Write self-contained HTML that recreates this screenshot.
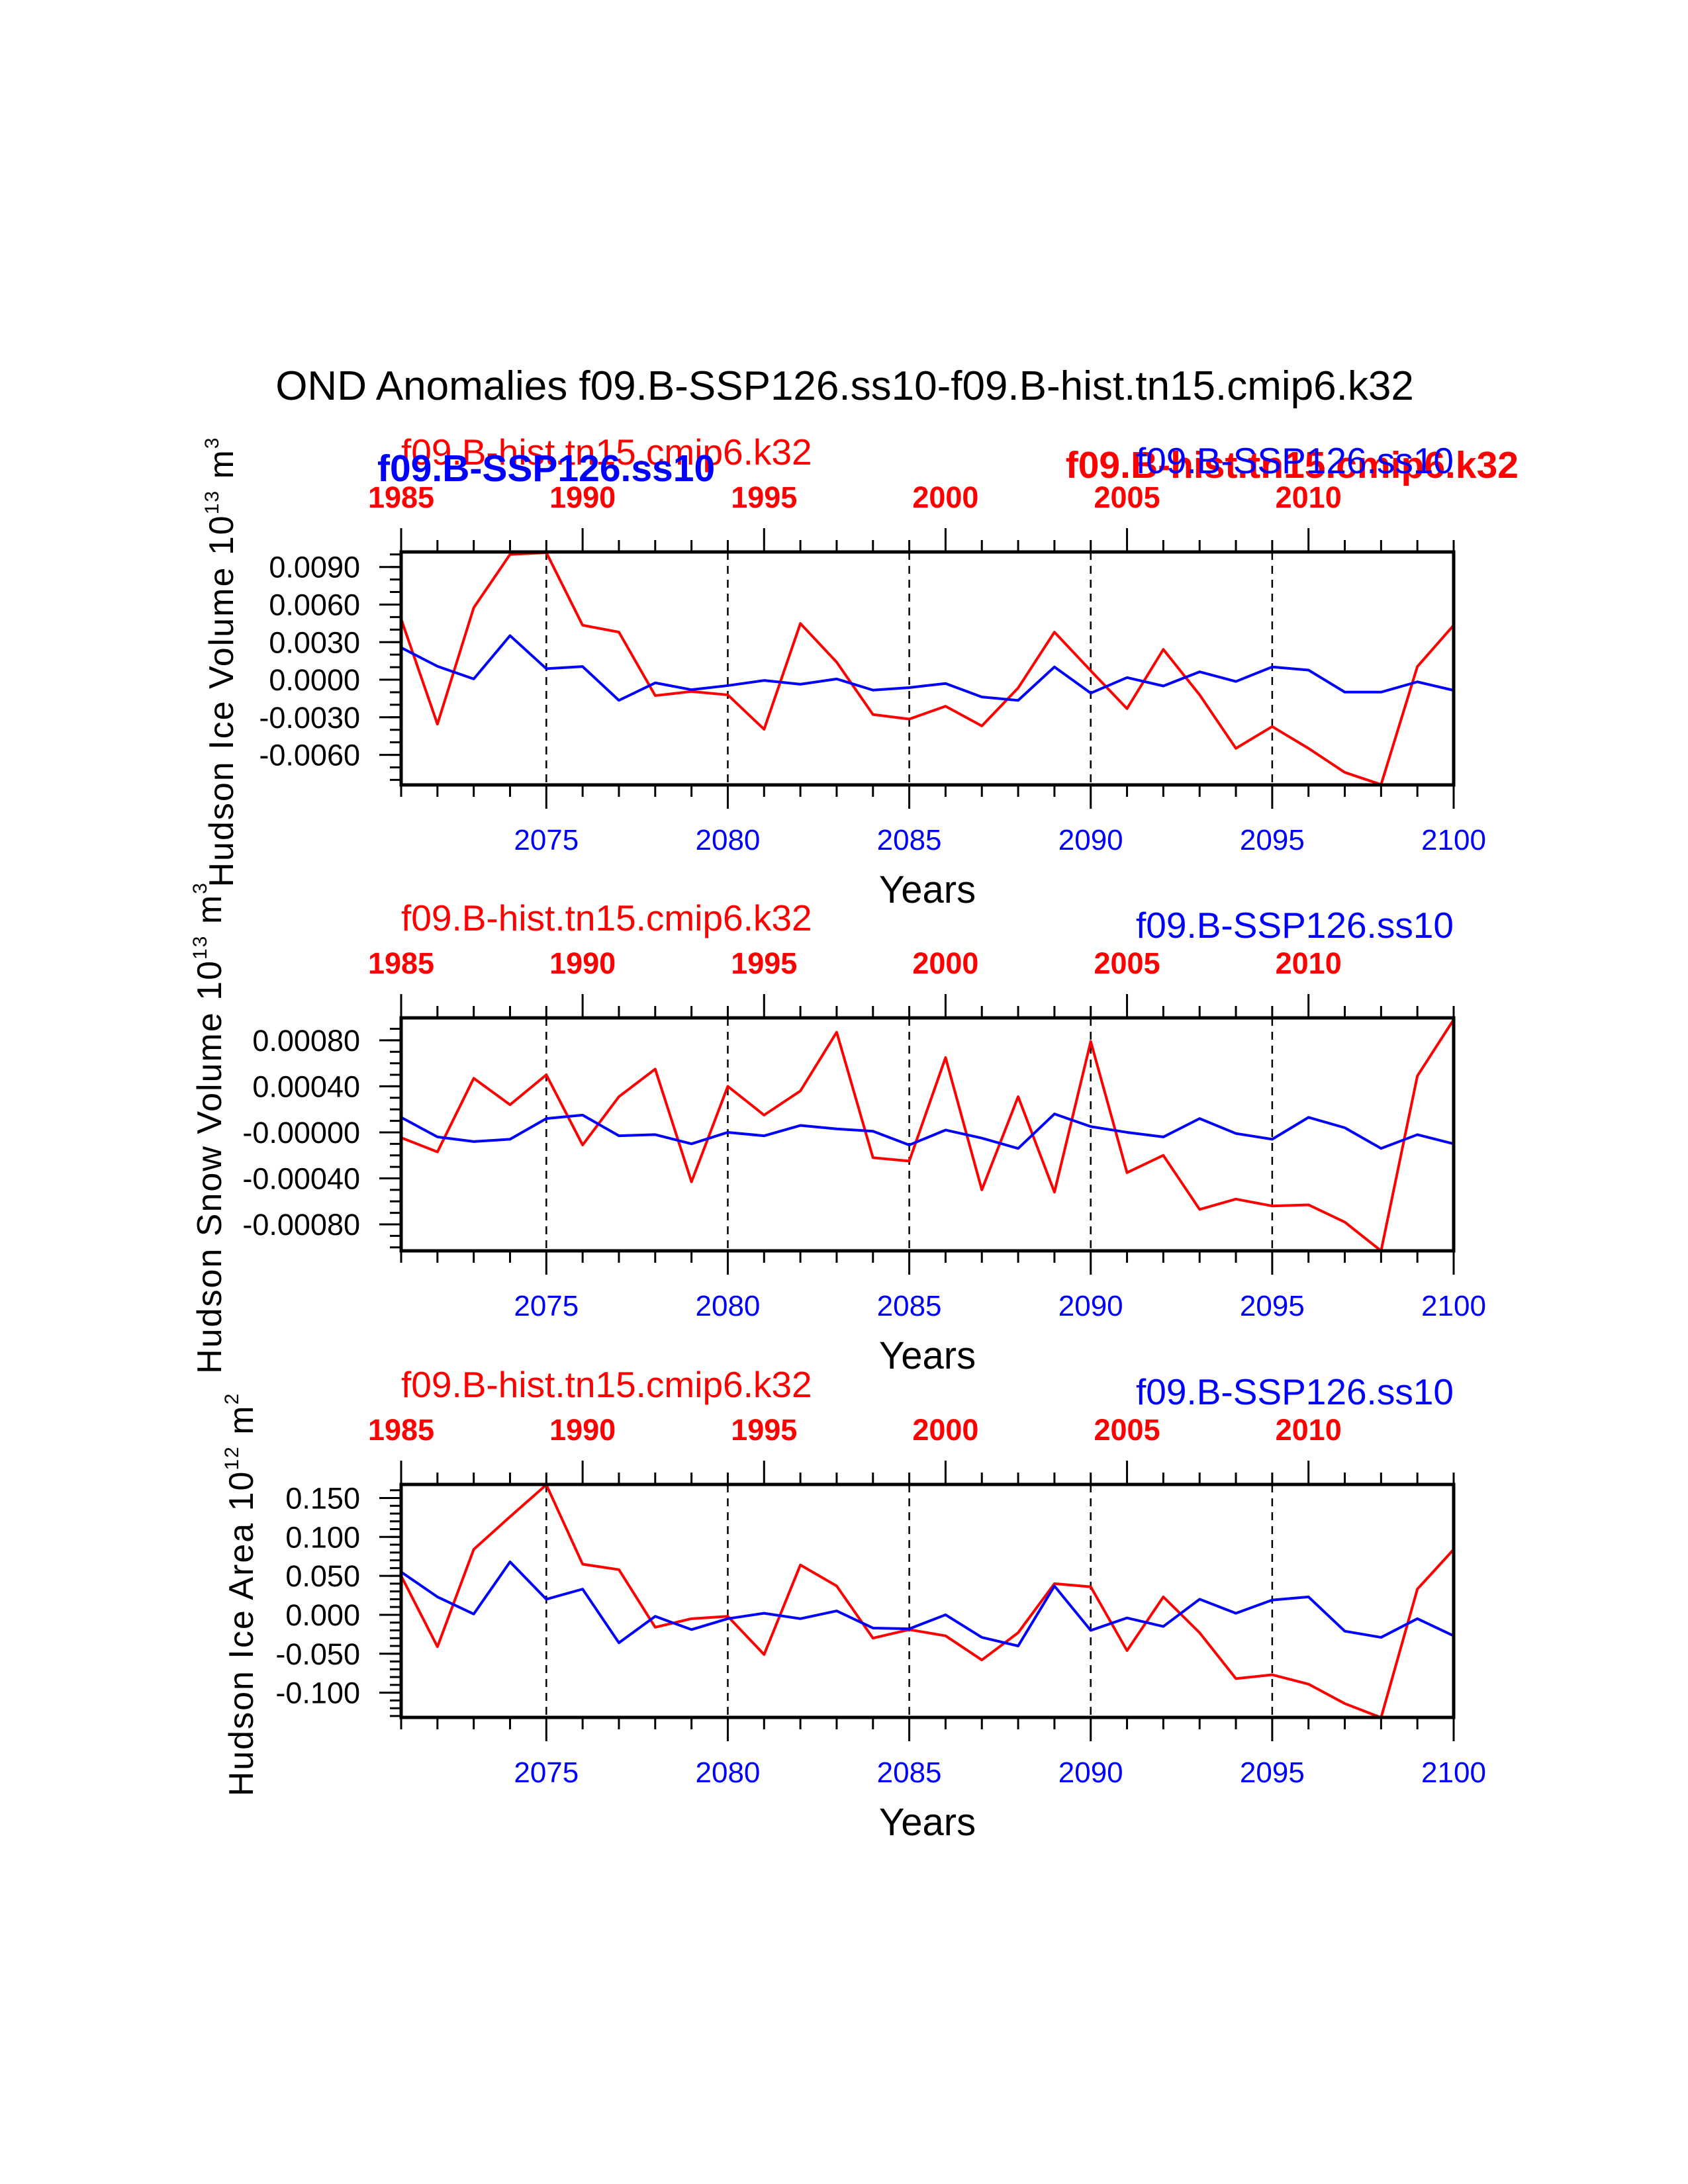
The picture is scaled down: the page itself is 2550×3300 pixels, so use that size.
<!DOCTYPE html>
<html><head><meta charset="utf-8"><style>
html,body{margin:0;padding:0;background:#fff}
svg{display:block}
text{font-family:"Liberation Sans",sans-serif}
</style></head><body>
<svg id="chart" width="2550" height="3300" viewBox="0 0 2550 3300" xmlns="http://www.w3.org/2000/svg">
<rect width="2550" height="3300" fill="#fff"/>
<text x="1276" y="604" font-size="62" text-anchor="middle">OND Anomalies f09.B-SSP126.ss10-f09.B-hist.tn15.cmip6.k32</text>
</svg>
<script>
const years = [2071,2072,2073,2074,2075,2076,2077,2078,2079,2080,2081,2082,2083,2084,2085,2086,2087,2088,2089,2090,2091,2092,2093,2094,2095,2096,2097,2098,2099,2100];
const bottomTicks = [2075,2080,2085,2090,2095,2100];
const topTicks = [1985,1990,1995,2000,2005,2010];
const histOffset = 86;
const iceVolRed = [0.00484,-0.00355,0.00575,0.0100,0.01015,0.00435,0.0038,-0.00127,-0.00094,-0.00121,-0.00396,0.00449,0.0014,-0.00278,-0.00314,-0.00212,-0.00369,-0.00066,0.0038,0.00072,-0.00231,0.00242,-0.00121,-0.00548,-0.00374,-0.00548,-0.0074,-0.00837,0.00105,0.00435];
const iceVolBlue = [0.00256,0.00107,0.00006,0.00352,0.00088,0.00105,-0.00165,-0.00025,-0.0008,-0.00047,-0.00006,-0.00036,0.00006,-0.00083,-0.00063,-0.0003,-0.00138,-0.00165,0.00102,-0.00107,0.00017,-0.0005,0.00063,-0.00014,0.00102,0.00077,-0.00099,-0.00099,-0.00017,-0.00085];
const snowRed = [-0.000046,-0.00017,0.00047,0.00024,0.0005,-0.00011,0.00031,0.00055,-0.00043,0.0004,0.00015,0.00036,0.00087,-0.00022,-0.00025,0.00065,-0.0005,0.00031,-0.00052,0.00079,-0.00035,-0.0002,-0.00067,-0.00058,-0.00064,-0.00063,-0.00078,-0.00103,0.00049,0.00098];
const snowBlue = [0.00013,-0.00004,-0.00008,-0.00006,0.00012,0.00015,-0.00003,-0.00002,-0.0001,0,-0.00003,0.00006,0.00003,0.00001,-0.00011,0.00002,-0.00005,-0.00014,0.00016,0.00005,0,-0.00004,0.00012,-0.00001,-0.00006,0.00013,0.00004,-0.00014,-0.00002,-0.0001];
const areaRed = [0.05,-0.041,0.084,0.126,0.167,0.065,0.058,-0.016,-0.005,-0.002,-0.051,0.064,0.037,-0.030,-0.019,-0.027,-0.058,-0.023,0.040,0.036,-0.046,0.023,-0.023,-0.082,-0.077,-0.089,-0.114,-0.132,0.033,0.084];
const areaBlue = [0.055,0.023,0.001,0.068,0.020,0.033,-0.036,-0.002,-0.019,-0.005,0.002,-0.005,0.005,-0.017,-0.018,0,-0.029,-0.040,0.037,-0.020,-0.004,-0.015,0.020,0.002,0.019,0.023,-0.021,-0.029,-0.005,-0.027];
const iceVolTicks = ["-0.0060","-0.0030","0.0000","0.0030","0.0060","0.0090"];
const snowTicks = ["-0.00080","-0.00040","-0.00000","0.00040","0.00080"];
const areaTicks = ["-0.100","-0.050","0.000","0.050","0.100","0.150"];

const NS = "http://www.w3.org/2000/svg";
const svg = document.getElementById('chart');
function mk(tag, attrs, parent, text){
  const e = document.createElementNS(NS, tag);
  for (const k in attrs) e.setAttribute(k, attrs[k]);
  if (text !== undefined) e.textContent = text;
  (parent||svg).appendChild(e);
  return e;
}
const X0 = 606, X1 = 2196;
const xs = y => X0 + (y - 2071) / (2100 - 2071) * (X1 - X0);

function panel(o){
  const top = o.top, bot = o.top + 352;
  const ys = v => bot - (v - o.ymin) / (o.ymax - o.ymin) * (bot - top);
  const g = mk('g', {});
  
  
  [2075,2080,2085,2090,2095].forEach(y => {
    const l = mk('line', {x1:xs(y), x2:xs(y), y1:top, y2:bot, stroke:'#000','stroke-width':2.5,'stroke-dasharray':'12,9'}, g);
    
    
  });
  years.forEach(y => {
    const major = bottomTicks.includes(y);
    mk('line', {x1:xs(y), x2:xs(y), y1:bot, y2:bot + (major?36:18), stroke:'#000','stroke-width':3}, g);
    const hy = y - histOffset;
    const tmaj = topTicks.includes(hy);
    mk('line', {x1:xs(y), x2:xs(y), y1:top, y2:top - (tmaj?36:18), stroke:'#000','stroke-width':3}, g);
  });
  bottomTicks.forEach(y => {
    const t = mk('text', {x:xs(y), y:bot+98, 'font-size':44, fill:'#0000ff','text-anchor':'middle'}, g, String(y));
    
    
  });
  topTicks.forEach(h => {
    const t = mk('text', {x:xs(h+histOffset), y:top-67, 'font-size':45, 'font-weight':'bold', fill:'#ff0000','text-anchor':'middle'}, g, String(h));
    
    
  });
  for (let v = Math.ceil(o.ymin/o.minor - 1e-6)*o.minor; v <= o.ymax + 1e-12; v += o.minor) {
    mk('line', {x1:X0, x2:X0-17, y1:ys(v), y2:ys(v), stroke:'#000','stroke-width':3}, g);
  }
  o.ticks.forEach(s => {
    const v = parseFloat(s);
    mk('line', {x1:X0, x2:X0-33, y1:ys(v), y2:ys(v), stroke:'#000','stroke-width':3}, g);
    const t = mk('text', {x:X0-62, y:ys(v)+16, 'font-size':45, 'text-anchor':'end'}, g, s);
    
    
  });
  [[o.red,'#ff0000','hist-series'],[o.blue,'#0000ff','ssp-series']].forEach(([d,c,n]) => {
    const p = mk('polyline', {points: d.map((v,i)=>xs(years[i])+','+ys(v)).join(' '), fill:'none', stroke:c, 'stroke-width':4,'stroke-linejoin':'round'}, g);
    
    
  });
  const fr = mk('rect', {x:X0, y:top, width:X1-X0, height:bot-top, fill:'none', stroke:'#000','stroke-width':5}, g);
  
  
  const yt = mk('text', {x:(X0+X1)/2, y:bot+178, 'font-size':58, 'text-anchor':'middle'}, g, 'Years');
  
  
  const yl = mk('text', {transform:`translate(${o.labx},${(top+bot)/2+o.labdy}) rotate(-90)`, 'font-size':52, 'text-anchor':'middle','letter-spacing':'2'}, g);
  
  
  yl.innerHTML = o.label + ' 10<tspan dy="-22" font-size="30">' + o.exp + '</tspan><tspan dy="22"> m</tspan><tspan dy="-22" font-size="30">' + o.unit + '</tspan>';
  const a = mk('text', {x:X0, y:top-132, 'font-size':55, fill:'#ff0000'}, g, 'f09.B-hist.tn15.cmip6.k32');
  
  
  if (o.first) {
    const b = mk('text', {x:570, y:top-107, 'font-size':57, 'font-weight':'bold', fill:'#0000ff'}, g, 'f09.B-SSP126.ss10');
    
    
    const c = mk('text', {x:2294, y:top-112, 'font-size':57, 'font-weight':'bold', fill:'#ff0000','text-anchor':'end'}, g, 'f09.B-hist.tn15.cmip6.k32');
    
    
    const d = mk('text', {x:X1, y:top-119, 'font-size':55, fill:'#0000ff','text-anchor':'end'}, g, 'f09.B-SSP126.ss10');
    
    
  } else {
    const d = mk('text', {x:X1, y:top-121, 'font-size':55, fill:'#0000ff','text-anchor':'end'}, g, 'f09.B-SSP126.ss10');
    
    
  }
}
panel({name:'ice-volume-panel', top:834, ymin:-0.0084, ymax:0.0102, minor:0.001, ticks:iceVolTicks, red:iceVolRed, blue:iceVolBlue, label:'Hudson Ice Volume', exp:'13', unit:'3', labx:352, labdy:-10, first:true});
panel({name:'snow-volume-panel', top:1538, ymin:-0.00103, ymax:0.000995, minor:0.0001, ticks:snowTicks, red:snowRed, blue:snowBlue, label:'Hudson Snow Volume', exp:'13', unit:'3', labx:334, labdy:-10});
panel({name:'ice-area-panel', top:2243, ymin:-0.1318, ymax:0.1674, minor:0.01, ticks:areaTicks, red:areaRed, blue:areaBlue, label:'Hudson Ice Area', exp:'12', unit:'2', labx:382, labdy:-10});
</script>
</body></html>
